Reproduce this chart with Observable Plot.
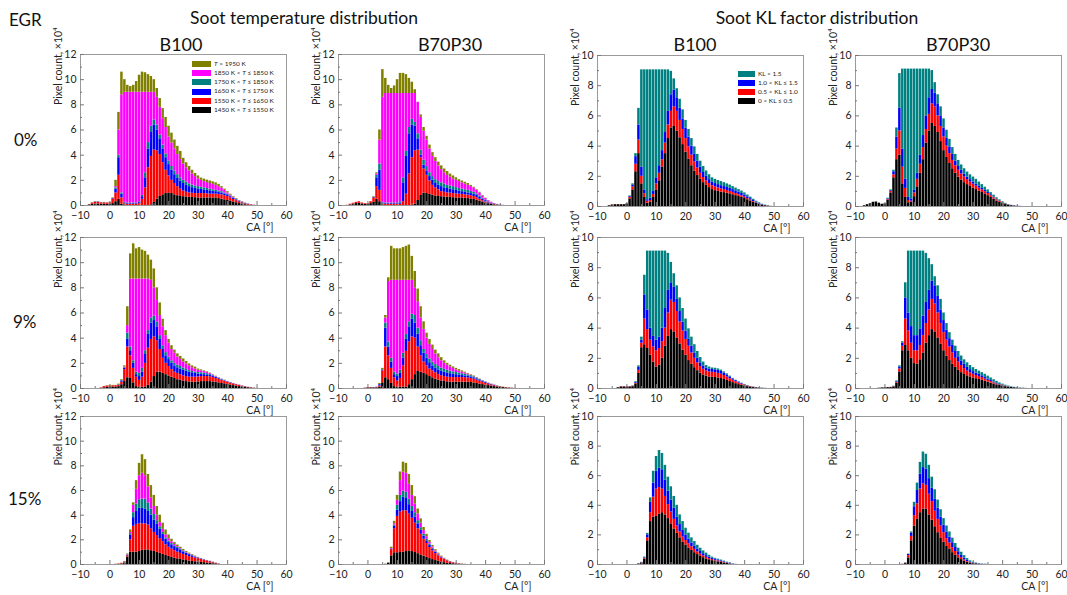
<!DOCTYPE html>
<html><head><meta charset="utf-8">
<script src="https://cdn.jsdelivr.net/npm/d3@7"></script>
<script src="https://cdn.jsdelivr.net/npm/@observablehq/plot@0.6"></script>
<style>
body{margin:0;background:#fff;font-family:Lato,"Open Sans",sans-serif;}
#root{position:relative;width:1067px;height:595px;overflow:hidden;background:#fff;}
.t{position:absolute;white-space:nowrap;color:#111;line-height:1;}
.c{transform:translate(-50%,-50%);}
.l{transform:translateY(-50%);}
.panel{position:absolute;}
.lg{position:absolute;display:flex;align-items:center;font-size:6.5px;color:#222;white-space:nowrap;line-height:1;}
.lg span.sw{display:inline-block;width:18px;height:6px;margin-right:3px;}
</style></head><body><div id="root"></div>
<script>
// crank-angle bins (deg), one bar per bin
const caBins = [-8,-7,-6,-5,-4,-3,-2,-1,0,1,2,3,4,5,6,7,8,9,10,11,12,13,14,15,16,17,18,19,20,21,22,23,24,25,26,27,28,29,30,31,32,33,34,35,36,37,38,39,40,41,42,43,44,45,46,47,48,49,50];

// Each array: upper edge (cumulative, x10^4 pixels) of the layer, bottom layer first.
// ---- Soot temperature, B100, EGR 0%
const tB100_0 = {
  black:[0,0.05,0.1,0.12,0.12,0.1,0.1,0.1, 0.1,0.15,0.3,0.5,0.1,0,0,0,0,0, 0,0,0,0,0.05,0.25,0.5,0.72,0.85,0.95, 1.0,0.95,0.85,0.78,0.72,0.7,0.68,0.66,0.64,0.62, 0.6,0.6,0.6,0.6,0.6,0.6,0.6,0.55,0.5,0.45, 0.4,0.35,0.28,0.22,0.15,0.1,0.06,0.03,0.02,0,0],
  red:[0,0.07,0.2,0.25,0.25,0.2,0.2,0.2, 0.2,0.5,1.0,2.4,0.6,0.15,0.1,0.1,0.1,0.1, 0.15,0.5,1.4,3.0,3.9,4.4,4.35,4.05,3.4,2.8, 2.35,2.0,1.75,1.5,1.3,1.15,1.05,1.0,0.97,0.95, 0.95,0.95,0.95,0.92,0.9,0.9,0.9,0.88,0.84,0.78, 0.72,0.6,0.48,0.38,0.28,0.2,0.13,0.08,0.04,0.02,0],
  blue:[0,0.07,0.2,0.28,0.28,0.22,0.22,0.2, 0.22,0.55,1.3,3.8,0.9,0.2,0.15,0.15,0.15,0.15, 0.25,0.7,2.2,4.5,5.8,6.4,6.0,5.3,4.5,3.8, 3.25,2.8,2.45,2.15,1.92,1.75,1.6,1.5,1.42,1.37, 1.32,1.28,1.24,1.2,1.17,1.13,1.1,1.05,1.0,0.92, 0.85,0.7,0.57,0.44,0.33,0.23,0.15,0.1,0.05,0.02,0],
  teal:[0,0.07,0.2,0.28,0.28,0.22,0.22,0.2, 0.22,0.55,1.4,4.0,1.0,0.25,0.2,0.2,0.2,0.2, 0.3,0.8,2.6,5.0,6.3,6.8,6.4,5.6,4.8,4.1, 3.55,3.1,2.75,2.45,2.2,2.0,1.85,1.72,1.62,1.55, 1.5,1.45,1.4,1.35,1.3,1.25,1.2,1.15,1.1,1.0, 0.9,0.75,0.6,0.47,0.36,0.26,0.17,0.11,0.06,0.02,0],
  magenta:[0,0.07,0.2,0.28,0.28,0.22,0.22,0.2, 0.22,0.55,1.5,6.0,8.8,9.0,9.0,9.0,9.0,9.0, 9.0,9.0,9.0,9.0,9.0,9.0,8.6,7.8,6.9,6.2, 5.45,4.95,4.5,4.05,3.65,3.3,3.0,2.75,2.5,2.3, 2.12,2.0,1.9,1.82,1.75,1.68,1.6,1.5,1.38,1.2, 1.0,0.82,0.65,0.5,0.38,0.28,0.18,0.12,0.07,0.03,0],
  olive:[0,0.08,0.22,0.3,0.3,0.25,0.25,0.22, 0.25,0.6,2.0,7.4,10.6,10.0,9.55,9.45,9.55,9.85, 10.35,10.6,10.55,10.4,10.25,10.0,9.3,8.5,7.7,7.0, 6.3,5.75,5.2,4.7,4.3,3.75,3.4,3.1,2.8,2.55, 2.35,2.18,2.1,2.02,1.95,1.88,1.8,1.68,1.5,1.3, 1.1,0.9,0.7,0.55,0.4,0.3,0.2,0.13,0.08,0.03,0]
};
// ---- Soot temperature, B70P30, EGR 0%
const tB70P30_0 = {
  black:[0,0,0.05,0.1,0.15,0.18,0.12,0.1, 0.1,0.15,0.25,0.5,0.3,0.05,0,0,0,0, 0,0,0,0,0,0,0.1,0.4,0.8,0.98, 0.95,0.88,0.82,0.76,0.72,0.7,0.68,0.66,0.64,0.62, 0.6,0.6,0.6,0.58,0.55,0.52,0.48,0.42,0.35,0.28, 0.2,0.14,0.09,0.05,0.03,0.01,0,0,0,0,0],
  red:[0,0.02,0.1,0.18,0.25,0.3,0.2,0.15, 0.15,0.3,0.6,1.5,1.2,0.15,0.1,0.1,0.1,0.1, 0.1,0.1,0.3,0.9,2.5,3.8,4.35,4.4,3.8,2.9, 2.4,1.95,1.6,1.4,1.25,1.1,1.05,1.0,0.98,0.95, 0.92,0.9,0.88,0.85,0.82,0.78,0.72,0.62,0.5,0.38, 0.28,0.2,0.13,0.08,0.05,0.02,0,0,0,0,0],
  blue:[0,0.02,0.1,0.18,0.25,0.3,0.2,0.15, 0.15,0.3,0.65,2.2,2.8,0.2,0.15,0.15,0.15,0.15, 0.15,0.2,1.8,3.9,5.7,6.4,6.3,5.3,4.0,3.2, 2.75,2.3,2.0,1.75,1.6,1.5,1.4,1.35,1.3,1.25, 1.2,1.15,1.1,1.05,1.0,0.95,0.9,0.8,0.65,0.5, 0.38,0.27,0.18,0.11,0.06,0.03,0.01,0,0,0,0],
  teal:[0,0.02,0.1,0.18,0.25,0.3,0.2,0.15, 0.15,0.3,0.65,2.4,3.3,0.25,0.2,0.2,0.2,0.2, 0.2,0.3,2.2,4.3,6.2,6.85,6.6,5.7,4.4,3.6, 3.1,2.6,2.3,2.05,1.9,1.8,1.7,1.6,1.55,1.5, 1.42,1.35,1.3,1.25,1.2,1.12,1.05,0.92,0.75,0.58, 0.43,0.3,0.2,0.12,0.07,0.03,0.01,0,0,0,0],
  magenta:[0,0.02,0.1,0.18,0.25,0.3,0.2,0.15, 0.15,0.3,0.65,2.5,5.2,8.6,8.9,8.9,8.9,8.9, 8.9,8.9,8.9,8.9,8.9,8.9,8.9,8.2,7.0,5.9, 5.2,4.5,3.9,3.5,3.15,2.85,2.6,2.4,2.25,2.1, 2.0,1.9,1.8,1.7,1.6,1.5,1.4,1.2,1.0,0.75, 0.55,0.38,0.25,0.15,0.08,0.04,0.01,0,0,0,0],
  olive:[0,0.02,0.1,0.18,0.25,0.3,0.2,0.15, 0.15,0.3,0.7,2.6,6.0,10.8,10.1,9.55,9.3,9.5, 10.0,10.5,10.5,10.4,10.1,9.8,9.2,8.2,7.2,6.2, 5.5,4.8,4.2,3.8,3.45,3.15,2.9,2.7,2.5,2.35, 2.2,2.05,1.95,1.85,1.75,1.6,1.45,1.25,1.05,0.8, 0.58,0.4,0.26,0.16,0.09,0.04,0.01,0,0,0,0]
};
// ---- Soot temperature, B100, EGR 9%
const tB100_9 = {
  black:[0,0,0,0,0,0.02,0.05,0.1, 0.12,0.12,0.12,0.15,0.3,0.55,0.85,0.8,0.45,0.15, 0.1,0.1,0.12,0.25,0.5,0.95,1.3,1.3,1.2,1.1, 1.0,0.9,0.8,0.7,0.65,0.6,0.55,0.52,0.5,0.5, 0.52,0.55,0.55,0.55,0.55,0.52,0.5,0.45,0.4,0.37, 0.33,0.28,0.23,0.19,0.15,0.12,0.09,0.06,0.04,0.02,0],
  red:[0,0,0,0,0,0.05,0.15,0.2, 0.2,0.22,0.22,0.25,0.5,1.5,3.3,2.6,1.6,0.9, 0.65,0.9,2.0,3.2,3.9,4.1,3.8,3.1,2.4,2.0, 1.75,1.5,1.3,1.2,1.1,1.0,0.95,0.9,0.9,0.9, 0.92,0.95,0.95,0.95,0.93,0.88,0.8,0.72,0.63,0.56, 0.5,0.43,0.36,0.3,0.24,0.18,0.13,0.09,0.06,0.03,0.01],
  blue:[0,0,0,0,0,0.05,0.15,0.2, 0.2,0.22,0.23,0.28,0.6,1.6,3.9,3.0,2.0,1.1, 0.95,1.3,2.7,4.3,5.2,5.4,4.9,3.9,3.1,2.6, 2.3,2.0,1.8,1.65,1.55,1.45,1.38,1.3,1.25,1.2, 1.15,1.12,1.1,1.08,1.05,0.98,0.88,0.78,0.68,0.6, 0.53,0.45,0.38,0.31,0.25,0.19,0.14,0.1,0.06,0.03,0.01],
  teal:[0,0,0,0,0,0.05,0.15,0.2, 0.2,0.22,0.23,0.3,0.65,1.65,4.4,3.3,2.2,1.3, 1.2,1.6,3.0,4.6,5.6,5.75,5.3,4.2,3.4,2.85, 2.5,2.2,2.0,1.85,1.75,1.62,1.52,1.42,1.35,1.3, 1.27,1.25,1.22,1.18,1.12,1.02,0.92,0.82,0.71,0.62, 0.55,0.47,0.39,0.32,0.26,0.2,0.15,0.1,0.06,0.03,0.01],
  magenta:[0,0,0,0,0,0.05,0.15,0.2, 0.2,0.22,0.23,0.3,0.65,1.7,5.0,8.7,8.7,8.7, 8.7,8.7,8.7,8.7,8.6,8.0,7.0,5.8,4.9,4.2, 3.6,3.1,2.8,2.5,2.3,2.1,1.95,1.8,1.65,1.55, 1.45,1.4,1.35,1.28,1.2,1.08,0.96,0.85,0.73,0.64, 0.56,0.48,0.4,0.33,0.27,0.21,0.15,0.1,0.06,0.03,0.01],
  olive:[0,0,0,0,0,0.05,0.15,0.22, 0.25,0.25,0.25,0.35,0.7,1.8,6.5,10.7,11.5,11.1, 11.2,11.0,10.9,10.6,10.2,9.5,8.0,6.8,5.5,4.6, 3.9,3.4,3.05,2.75,2.55,2.35,2.15,1.95,1.8,1.7, 1.55,1.48,1.4,1.32,1.22,1.1,0.98,0.87,0.75,0.66, 0.56,0.48,0.4,0.33,0.27,0.21,0.15,0.1,0.06,0.03,0.01]
};
// ---- Soot temperature, B70P30, EGR 9%
const tB70P30_9 = {
  black:[0,0,0,0,0,0,0,0.02, 0.05,0.05,0.05,0.05,0.1,0.45,0.85,0.7,0.4,0.15, 0.1,0.1,0.1,0.12,0.3,0.7,1.1,1.35,1.3,1.2, 1.1,0.95,0.85,0.75,0.67,0.6,0.56,0.53,0.51,0.5, 0.5,0.5,0.5,0.5,0.5,0.48,0.44,0.4,0.35,0.31, 0.27,0.23,0.19,0.15,0.12,0.09,0.07,0.05,0.03,0.02,0],
  red:[0,0,0,0,0,0,0,0.03, 0.08,0.08,0.06,0.08,0.2,1.4,3.3,2.6,1.6,0.85, 0.6,0.8,1.8,2.95,3.7,4.1,4.0,3.3,2.6,2.1, 1.8,1.55,1.4,1.25,1.12,1.02,0.95,0.9,0.88,0.87, 0.87,0.87,0.87,0.86,0.84,0.8,0.74,0.66,0.58,0.5, 0.42,0.35,0.28,0.22,0.17,0.13,0.1,0.07,0.05,0.03,0.01],
  blue:[0,0,0,0,0,0,0,0.03, 0.08,0.08,0.06,0.1,0.3,1.45,4.8,3.3,2.1,1.1, 0.95,1.2,2.4,3.9,4.9,5.5,5.2,4.3,3.4,2.8, 2.4,2.05,1.8,1.6,1.48,1.38,1.3,1.24,1.18,1.14, 1.1,1.06,1.03,1.0,0.97,0.92,0.85,0.77,0.68,0.58, 0.48,0.4,0.32,0.25,0.19,0.14,0.1,0.07,0.05,0.03,0.01],
  teal:[0,0,0,0,0,0,0,0.03, 0.08,0.08,0.06,0.1,0.32,1.5,5.2,3.7,2.4,1.3, 1.15,1.45,2.8,4.3,5.3,5.9,5.8,4.8,3.8,3.1, 2.7,2.35,2.1,1.9,1.75,1.62,1.52,1.45,1.38,1.32, 1.27,1.22,1.17,1.13,1.08,1.02,0.93,0.83,0.72,0.61, 0.5,0.41,0.33,0.26,0.2,0.15,0.1,0.07,0.05,0.03,0.01],
  magenta:[0,0,0,0,0,0,0,0.03, 0.08,0.08,0.06,0.1,0.32,1.5,5.6,8.5,8.6,8.6, 8.6,8.6,8.6,8.6,8.6,8.6,8.0,6.9,5.6,4.7, 4.0,3.5,3.1,2.75,2.45,2.2,2.0,1.85,1.72,1.6, 1.48,1.38,1.3,1.22,1.15,1.06,0.96,0.85,0.73,0.62, 0.51,0.42,0.34,0.27,0.2,0.15,0.1,0.07,0.05,0.03,0.01],
  olive:[0,0,0,0,0,0,0,0.03, 0.08,0.08,0.06,0.1,0.4,1.6,5.8,8.8,11.3,11.1, 11.1,11.1,11.2,11.3,11.4,10.5,9.3,7.9,6.5,5.3, 4.4,3.9,3.45,3.05,2.75,2.45,2.2,2.0,1.85,1.72, 1.6,1.5,1.4,1.3,1.2,1.1,1.0,0.88,0.76,0.64, 0.53,0.43,0.35,0.28,0.21,0.16,0.11,0.08,0.05,0.03,0.01]
};
// ---- Soot temperature, B100, EGR 15%
const tB100_15 = {
  black:[0,0,0,0,0,0,0,0, 0,0,0.01,0.02,0.04,0.1,0.6,1.0,1.0,1.0, 1.05,1.15,1.18,1.18,1.12,1.06,0.98,0.9,0.82,0.74, 0.66,0.58,0.52,0.46,0.41,0.37,0.32,0.28,0.25,0.22, 0.2,0.17,0.15,0.12,0.1,0.07,0.05,0.02,0,0],
  red:[0,0,0,0,0,0,0,0, 0,0,0.02,0.04,0.1,0.2,0.7,2.0,3.1,3.25, 3.3,3.3,3.3,3.2,2.9,2.6,2.35,2.1,1.85,1.6, 1.4,1.25,1.12,1.0,0.9,0.82,0.72,0.64,0.58,0.52, 0.47,0.4,0.34,0.28,0.22,0.16,0.1,0.04,0,0],
  blue:[0,0,0,0,0,0,0,0, 0,0,0.02,0.04,0.1,0.22,0.75,2.4,3.8,4.3, 4.55,4.55,4.5,4.3,4.0,3.6,3.25,2.85,2.45,2.05, 1.8,1.6,1.45,1.3,1.15,1.02,0.9,0.8,0.7,0.6, 0.52,0.44,0.37,0.3,0.24,0.17,0.1,0.04,0,0],
  teal:[0,0,0,0,0,0,0,0, 0,0,0.02,0.04,0.1,0.22,0.78,2.5,4.2,4.9, 5.25,5.3,5.3,5.0,4.5,4.05,3.55,3.05,2.6,2.15, 1.9,1.7,1.52,1.38,1.22,1.07,0.94,0.82,0.72,0.62, 0.54,0.46,0.38,0.31,0.25,0.18,0.11,0.04,0,0],
  magenta:[0,0,0,0,0,0,0,0, 0,0,0.02,0.04,0.1,0.22,0.8,2.6,4.8,6.1, 7.2,7.4,7.2,6.3,5.4,4.7,4.0,3.4,2.85,2.4, 2.1,1.85,1.62,1.45,1.28,1.12,0.98,0.86,0.74,0.64, 0.55,0.47,0.39,0.32,0.26,0.19,0.12,0.05,0,0],
  olive:[0,0,0,0,0,0,0,0, 0,0,0.02,0.05,0.1,0.25,0.85,2.8,5.0,6.8, 8.2,8.9,8.5,7.3,6.4,5.6,4.7,4.0,3.35,2.8, 2.4,2.05,1.78,1.58,1.4,1.22,1.06,0.92,0.8,0.68, 0.58,0.49,0.41,0.33,0.27,0.2,0.12,0.05,0,0]
};
// ---- Soot temperature, B70P30, EGR 15%
const tB70P30_15 = {
  black:[0,0,0,0,0,0,0,0, 0,0,0,0,0,0,0.02,0.1,0.7,0.95, 0.95,0.97,1.0,1.05,1.1,1.05,0.97,0.88,0.78,0.68, 0.58,0.48,0.4,0.32,0.26,0.2,0.15,0.11,0.08,0.06, 0.04,0.02,0.01,0],
  red:[0,0,0,0,0,0,0,0, 0,0,0,0,0,0,0.02,0.12,1.2,2.9, 3.9,4.25,4.35,4.35,4.1,3.75,3.35,2.9,2.45,2.05, 1.7,1.38,1.1,0.88,0.7,0.53,0.4,0.29,0.2,0.13, 0.09,0.05,0.03,0.01,0],
  blue:[0,0,0,0,0,0,0,0, 0,0,0,0,0,0,0.02,0.12,1.25,3.1, 4.4,5.1,5.45,5.35,4.85,4.3,3.85,3.3,2.78,2.3, 1.92,1.55,1.25,0.98,0.76,0.58,0.43,0.31,0.22,0.14, 0.1,0.06,0.03,0.01,0],
  teal:[0,0,0,0,0,0,0,0, 0,0,0,0,0,0,0.02,0.12,1.27,3.2, 4.8,5.6,5.95,5.85,5.3,4.7,4.2,3.55,2.98,2.45, 2.05,1.65,1.32,1.03,0.8,0.6,0.45,0.33,0.23,0.15, 0.1,0.06,0.03,0.01,0],
  magenta:[0,0,0,0,0,0,0,0, 0,0,0,0,0,0,0.02,0.12,1.3,3.3, 5.2,6.8,7.5,7.4,6.5,5.6,4.9,4.1,3.35,2.75, 2.25,1.8,1.42,1.1,0.85,0.63,0.47,0.34,0.24,0.16, 0.11,0.06,0.03,0.01,0],
  olive:[0,0,0,0,0,0,0,0, 0,0,0,0,0,0,0.02,0.15,1.4,3.5, 5.6,7.5,8.3,8.2,7.3,6.4,5.5,4.5,3.7,3.0, 2.45,1.95,1.55,1.2,0.92,0.68,0.5,0.36,0.25,0.17, 0.12,0.07,0.04,0.02,0]
};
// ---- Soot KL factor, B100, EGR 0%
const kB100_0 = {
  black:[0,0,0.05,0.1,0.12,0.12,0.12,0.12, 0.15,0.5,1.1,2.3,3.5,1.5,0.6,0.22,0.3,0.6, 1.1,1.7,2.6,3.5,4.5,5.2,5.3,5.0,4.55,4.1, 3.6,3.15,2.7,2.35,2.05,1.8,1.58,1.4,1.25,1.12, 1.05,1.0,0.95,0.92,0.88,0.84,0.78,0.72,0.66,0.6, 0.53,0.45,0.37,0.29,0.21,0.14,0.09,0.05,0.03,0.01,0],
  red:[0,0,0.06,0.11,0.13,0.13,0.13,0.13, 0.17,0.6,1.3,2.8,4.4,2.0,0.85,0.35,0.4,0.8, 1.5,2.2,3.1,4.2,5.4,6.3,6.6,6.3,5.7,5.1, 4.5,3.95,3.4,2.95,2.55,2.2,1.92,1.7,1.52,1.38, 1.3,1.23,1.17,1.12,1.06,1.0,0.93,0.86,0.78,0.7, 0.62,0.52,0.43,0.33,0.24,0.16,0.1,0.06,0.03,0.01,0],
  blue:[0,0,0.06,0.11,0.13,0.13,0.13,0.13, 0.18,0.65,1.4,3.3,5.4,2.6,1.1,0.45,0.55,1.0, 1.9,2.7,3.7,4.9,6.3,7.4,7.7,7.2,6.5,5.8, 5.2,4.6,4.0,3.45,3.0,2.6,2.25,2.0,1.78,1.62, 1.52,1.45,1.38,1.32,1.26,1.2,1.12,1.04,0.95,0.86, 0.76,0.64,0.52,0.4,0.29,0.19,0.12,0.07,0.03,0.01,0],
  teal:[0,0,0.06,0.11,0.13,0.13,0.13,0.13, 0.2,0.7,1.5,3.5,6.5,9.05,9.05,9.05,9.05,9.05, 9.05,9.05,9.05,9.05,9.05,8.95,8.45,7.8,7.1,6.4, 5.7,5.1,4.5,3.95,3.45,3.0,2.65,2.35,2.1,1.9, 1.8,1.72,1.65,1.58,1.5,1.42,1.32,1.22,1.12,1.02, 0.9,0.76,0.62,0.48,0.35,0.24,0.15,0.09,0.04,0.01,0]
};
// ---- Soot KL factor, B70P30, EGR 0%
const kB70P30_0 = {
  black:[0,0.05,0.12,0.18,0.28,0.3,0.22,0.15, 0.15,0.4,0.9,1.9,3.1,3.4,1.5,0.6,0.25,0.3, 0.65,1.3,2.2,3.1,4.2,5.0,5.5,5.3,4.9,4.3, 3.7,3.25,2.85,2.5,2.2,1.95,1.75,1.58,1.45,1.33, 1.22,1.12,1.02,0.93,0.83,0.72,0.6,0.48,0.36,0.27, 0.19,0.13,0.08,0.05,0.03,0.01,0,0,0,0,0],
  red:[0,0.05,0.12,0.18,0.28,0.3,0.22,0.15, 0.17,0.45,1.0,2.1,3.8,5.0,2.6,1.2,0.4,0.35, 0.9,1.8,2.8,3.9,5.1,6.1,6.8,6.6,6.0,5.3, 4.6,4.0,3.5,3.05,2.7,2.4,2.15,1.95,1.78,1.62, 1.48,1.35,1.22,1.1,0.98,0.86,0.72,0.58,0.45,0.34, 0.24,0.16,0.1,0.06,0.03,0.01,0,0,0,0,0],
  blue:[0,0.05,0.12,0.18,0.28,0.3,0.22,0.15, 0.18,0.5,1.05,2.3,4.6,6.5,3.8,1.8,0.6,0.5, 1.1,2.2,3.4,4.7,6.0,7.2,7.75,7.5,6.8,6.0, 5.2,4.5,3.95,3.45,3.0,2.65,2.4,2.15,1.95,1.78, 1.62,1.48,1.34,1.2,1.07,0.93,0.78,0.63,0.49,0.37, 0.26,0.17,0.11,0.07,0.04,0.02,0.01,0,0,0,0],
  teal:[0,0.05,0.12,0.18,0.28,0.3,0.22,0.15, 0.2,0.55,1.1,2.4,5.2,8.8,9.1,9.1,9.1,9.1, 9.1,9.1,9.1,9.1,9.1,9.1,9.0,8.2,7.4,6.6, 5.8,5.05,4.45,3.9,3.45,3.05,2.75,2.5,2.28,2.1, 1.95,1.8,1.62,1.45,1.28,1.1,0.92,0.75,0.58,0.44, 0.31,0.21,0.13,0.08,0.05,0.02,0.01,0,0,0,0]
};
// ---- Soot KL factor, B100, EGR 9%
const kB100_9 = {
  black:[0,0,0,0,0,0.05,0.1,0.1, 0.1,0.1,0.12,0.3,1.0,2.7,2.9,2.65,2.2,1.75, 1.42,1.55,2.0,2.8,3.45,3.9,3.75,3.35,2.95,2.55, 2.2,1.85,1.6,1.38,1.18,1.02,0.9,0.82,0.76,0.74, 0.73,0.7,0.66,0.6,0.54,0.46,0.39,0.32,0.26,0.21, 0.16,0.12,0.09,0.06,0.04,0.03,0.02,0.01,0,0,0],
  red:[0,0,0,0,0,0.05,0.12,0.12, 0.12,0.12,0.15,0.35,1.2,3.0,4.6,3.9,3.2,2.75, 2.5,2.65,3.1,4.0,5.0,5.85,5.7,5.1,4.4,3.8, 3.25,2.8,2.35,2.0,1.7,1.45,1.28,1.16,1.1,1.07, 1.05,1.0,0.95,0.86,0.76,0.65,0.55,0.45,0.36,0.29, 0.22,0.16,0.12,0.08,0.05,0.03,0.02,0.01,0,0,0],
  blue:[0,0,0,0,0,0.05,0.12,0.12, 0.12,0.13,0.16,0.4,1.4,3.2,6.2,5.2,4.0,3.45, 3.2,3.4,4.0,5.3,6.5,7.0,6.7,5.9,5.1,4.4, 3.8,3.25,2.8,2.35,2.0,1.7,1.48,1.35,1.29,1.26, 1.24,1.2,1.13,1.02,0.9,0.77,0.64,0.52,0.42,0.33, 0.25,0.18,0.13,0.09,0.06,0.04,0.02,0.01,0,0,0],
  teal:[0,0,0,0,0,0.05,0.12,0.12, 0.12,0.13,0.17,0.45,1.5,3.4,7.5,9.1,9.1,9.1, 9.1,9.1,9.1,9.1,8.95,8.35,7.6,6.8,6.0,5.3, 4.6,3.95,3.4,2.9,2.45,2.05,1.75,1.52,1.42,1.36, 1.34,1.3,1.22,1.1,0.97,0.82,0.67,0.55,0.44,0.35, 0.27,0.2,0.14,0.1,0.07,0.04,0.02,0.01,0,0,0]
};
// ---- Soot KL factor, B70P30, EGR 9%
const kB70P30_9 = {
  black:[0,0,0,0,0,0,0.02,0.04, 0.05,0.06,0.06,0.1,0.35,1.1,2.5,2.85,2.5,2.0, 1.65,1.62,1.9,2.35,3.0,3.5,3.9,3.75,3.35,2.95, 2.5,2.15,1.85,1.6,1.4,1.2,1.05,0.93,0.84,0.77, 0.7,0.65,0.6,0.55,0.49,0.42,0.36,0.3,0.24,0.2, 0.16,0.12,0.09,0.07,0.05,0.03,0.02,0.01,0,0,0],
  red:[0,0,0,0,0,0,0.02,0.04, 0.05,0.07,0.07,0.12,0.4,1.3,2.8,4.6,3.8,3.0, 2.5,2.5,2.85,3.5,4.3,5.2,5.9,5.6,5.0,4.3, 3.7,3.2,2.75,2.35,2.0,1.75,1.52,1.32,1.16,1.04, 0.94,0.86,0.79,0.72,0.63,0.54,0.46,0.38,0.3,0.24, 0.19,0.14,0.1,0.07,0.05,0.03,0.02,0.01,0,0,0],
  blue:[0,0,0,0,0,0,0.02,0.04, 0.05,0.07,0.07,0.13,0.45,1.4,3.0,6.0,5.0,4.1, 3.5,3.5,3.95,4.8,5.7,6.5,7.1,6.8,6.1,5.2, 4.5,3.85,3.3,2.85,2.45,2.1,1.82,1.6,1.4,1.25, 1.12,1.02,0.93,0.84,0.74,0.63,0.53,0.43,0.34,0.27, 0.21,0.16,0.11,0.08,0.05,0.03,0.02,0.01,0,0,0],
  teal:[0,0,0,0,0,0,0.02,0.04, 0.05,0.07,0.08,0.15,0.5,1.5,3.1,7.0,9.1,9.1, 9.1,9.1,9.1,9.1,8.95,8.6,8.2,7.4,6.8,5.9, 5.0,4.3,3.7,3.2,2.8,2.45,2.15,1.9,1.7,1.52, 1.38,1.26,1.15,1.05,0.94,0.82,0.7,0.58,0.47,0.37, 0.29,0.22,0.16,0.11,0.08,0.05,0.03,0.02,0.01,0,0]
};
// ---- Soot KL factor, B100, EGR 15%
const kB100_15 = {
  black:[0,0,0,0,0,0,0,0, 0,0,0,0,0.03,0.1,0.35,1.6,2.9,3.2, 3.25,3.4,3.5,3.35,3.1,2.75,2.4,2.1,1.8,1.52, 1.32,1.12,0.95,0.8,0.67,0.55,0.46,0.38,0.32,0.26, 0.22,0.18,0.14,0.1,0.07,0.04,0.02,0,0,0],
  red:[0,0,0,0,0,0,0,0, 0,0,0,0,0.04,0.12,0.4,1.8,3.5,4.55, 5.1,5.2,5.1,4.6,4.05,3.55,3.05,2.6,2.2,1.85, 1.62,1.4,1.2,1.02,0.85,0.7,0.58,0.48,0.4,0.33, 0.28,0.24,0.19,0.14,0.09,0.05,0.02,0,0,0],
  blue:[0,0,0,0,0,0,0,0, 0,0,0,0,0.05,0.14,0.45,2.0,4.2,5.5, 6.3,6.5,6.4,5.7,4.95,4.35,3.8,3.2,2.7,2.3, 2.0,1.72,1.46,1.25,1.05,0.88,0.73,0.6,0.5,0.42, 0.36,0.31,0.25,0.18,0.12,0.07,0.03,0.01,0,0],
  teal:[0,0,0,0,0,0,0,0, 0,0,0,0,0.06,0.15,0.5,2.1,4.5,6.3, 7.3,7.7,7.5,6.7,5.9,5.25,4.6,4.0,3.35,2.9, 2.45,2.12,1.8,1.55,1.3,1.1,0.92,0.77,0.62,0.5, 0.42,0.36,0.3,0.23,0.16,0.1,0.04,0.01,0,0]
};
// ---- Soot KL factor, B70P30, EGR 15%
const kB70P30_15 = {
  black:[0,0,0,0,0,0,0,0, 0,0,0,0,0,0,0.01,0.06,0.45,1.6, 2.6,3.05,3.5,3.75,3.75,3.35,3.0,2.55,2.15,1.8, 1.5,1.22,1.05,0.8,0.62,0.45,0.33,0.23,0.15,0.09, 0.06,0.04,0.02,0.01,0],
  red:[0,0,0,0,0,0,0,0, 0,0,0,0,0,0,0.02,0.08,0.6,1.9, 3.3,4.1,5.1,5.45,5.35,4.75,4.25,3.6,3.05,2.6, 2.15,1.75,1.45,1.13,0.88,0.63,0.46,0.31,0.2,0.12, 0.08,0.05,0.03,0.01,0],
  blue:[0,0,0,0,0,0,0,0, 0,0,0,0,0,0,0.02,0.1,0.68,2.1, 3.9,5.0,6.1,6.55,6.45,5.8,5.15,4.4,3.8,3.2, 2.65,2.2,1.85,1.47,1.15,0.86,0.62,0.43,0.28,0.17, 0.11,0.07,0.04,0.02,0.01,0],
  teal:[0,0,0,0,0,0,0,0, 0,0,0,0,0,0,0.02,0.1,0.7,2.2, 4.2,5.5,6.9,7.6,7.45,6.7,5.9,5.05,4.35,3.7, 3.1,2.6,2.2,1.78,1.42,1.1,0.83,0.6,0.4,0.25, 0.16,0.1,0.06,0.03,0.02,0.01,0]
};

// Layer keys (bottom to top), bar colours and legend labels
const tempKeys = ["black","red","blue","teal","magenta","olive"];
const tempColors = ["#2c2c2c","#ef3535","#2a32ee","#23897f","#ee3cee","#87871d"];
const tempLegend = [
  ["olive","#808000","<i>T</i> &gt; 1950 K"],
  ["magenta","#ff00ff","1850 K &lt; <i>T</i> ≤ 1850 K"],
  ["teal","#008080","1750 K &lt; <i>T</i> ≤ 1850 K"],
  ["blue","#0000ff","1650 K &lt; <i>T</i> ≤ 1750 K"],
  ["red","#ff0000","1550 K &lt; <i>T</i> ≤ 1650 K"],
  ["black","#000000","1450 K &lt; <i>T</i> ≤ 1550 K"]
];
const klKeys = ["black","red","blue","teal"];
const klColors = ["#2c2c2c","#ef3535","#2a32ee","#2a9085"];
const klLegend = [
  ["teal","#008080","KL &gt; 1.5"],
  ["blue","#0000ff","1.0 &lt; KL ≤ 1.5"],
  ["red","#ff0000","0.5 &lt; KL ≤ 1.0"],
  ["black","#000000","0 &lt; KL ≤ 0.5"]
];
const xMajor = [-10,0,10,20,30,40,50,60];
const xMinor = [-5,5,15,25,35,45,55];
const tempYMajor = [0,2,4,6,8,10,12];
const tempYMinor = [1,3,5,7,9,11];
const klYMajor = [0,2,4,6,8,10];
const klYMinor = [1,3,5,7,9];

const root = document.getElementById("root");
function addText(html, x, y, size, cls) {
  const d = document.createElement("div");
  d.className = "t " + cls;
  d.style.left = x + "px"; d.style.top = y + "px"; d.style.fontSize = size + "px";
  d.innerHTML = html;
  root.appendChild(d);
}
addText("EGR", 9, 19, 17, "l");
addText("Soot temperature distribution", 304, 18, 17.5, "c");
addText("Soot KL factor distribution", 817, 18, 17.5, "c");
addText("B100", 181, 44, 18, "c");
addText("B70P30", 450, 44, 18, "c");
addText("B100", 695, 44, 18, "c");
addText("B70P30", 958, 44, 18, "c");
addText("0%", 14, 139, 17, "l");
addText("9%", 13, 321, 17, "l");
addText("15%", 8, 498, 17, "l");

const ML = 40, MR = 8, MT = 6, MB = 34, FW = 206;
const panels = [
  {data: tB100_0, kind: "t", left: 80, top: 54, fh: 151},
  {data: tB70P30_0, kind: "t", left: 338, top: 54, fh: 151},
  {data: kB100_0, kind: "k", left: 597, top: 55, fh: 151},
  {data: kB70P30_0, kind: "k", left: 855, top: 55, fh: 151},
  {data: tB100_9, kind: "t", left: 80, top: 237, fh: 151},
  {data: tB70P30_9, kind: "t", left: 338, top: 237, fh: 151},
  {data: kB100_9, kind: "k", left: 597, top: 237, fh: 151},
  {data: kB70P30_9, kind: "k", left: 855, top: 237, fh: 151},
  {data: tB100_15, kind: "t", left: 80, top: 416, fh: 148},
  {data: tB70P30_15, kind: "t", left: 338, top: 416, fh: 148},
  {data: kB100_15, kind: "k", left: 597, top: 416, fh: 148},
  {data: kB70P30_15, kind: "k", left: 855, top: 416, fh: 148}
];

panels.forEach(p => {
  const keys = p.kind === "t" ? tempKeys : klKeys;
  const colors = p.kind === "t" ? tempColors : klColors;
  const rows = [];
  let below = caBins.map(() => 0);
  keys.forEach(k => {
    const arr = p.data[k];
    const top = caBins.map((c, i) => Math.max(below[i], arr[i] ?? 0));
    caBins.forEach((ca, i) => {
      if (top[i] > below[i]) rows.push({ca, y1: below[i], y2: top[i], layer: k});
    });
    below = top;
  });
  const chart = Plot.plot({
    width: ML + FW + MR, height: MT + p.fh + MB,
    marginLeft: ML, marginRight: MR, marginTop: MT, marginBottom: MB,
    style: {fontFamily: "Lato, 'Open Sans', sans-serif", fontSize: "10.5px", color: "#222", background: "transparent", overflow: "visible"},
    x: {domain: [-10, 60]},
    y: {domain: [0, p.kind === "t" ? 12 : 10]},
    color: {domain: keys, range: colors},
    marks: [
      Plot.rect(rows, {x1: d => d.ca - 0.5, x2: d => d.ca + 0.5, y1: "y1", y2: "y2", fill: "layer", insetLeft: 0.45}),
      Plot.frame({stroke: "#9a9a9a", strokeWidth: 1}),
      Plot.axisX(xMajor, {tickSize: -4, tickPadding: 10.5, stroke: "#777", label: null, fontSize: 10.5}),
      Plot.axisX(xMinor, {tickSize: -2, tickFormat: () => "", stroke: "#777", label: null}),
      Plot.axisY(p.kind === "t" ? tempYMajor : klYMajor, {tickSize: -4, tickPadding: 8, stroke: "#777", label: null, fontSize: 10.5}),
      Plot.axisY(p.kind === "t" ? tempYMinor : klYMinor, {tickSize: -2, tickFormat: () => "", stroke: "#777", label: null}),
      Plot.text(["CA [°]"], {frameAnchor: "bottom-right", dx: -13, dy: 25, textAnchor: "end", fontSize: 10.5}),
      Plot.text(["Pixel count, ×10⁴"], {frameAnchor: "left", rotate: -90, dx: -22, dy: -25, fontSize: 10.5})
    ]
  });
  chart.classList.add("panel");
  chart.style.left = (p.left - ML) + "px";
  chart.style.top = (p.top - MT) + "px";
  root.appendChild(chart);
});

function addLegend(items, x, y0, step, swW) {
  items.forEach(([k, col, label], i) => {
    const d = document.createElement("div");
    d.className = "lg";
    d.style.left = x + "px";
    d.style.top = (y0 + i * step - 3) + "px";
    d.innerHTML = `<span class="sw" style="background:${col};width:${swW}px"></span><span>${label}</span>`;
    root.appendChild(d);
  });
}
addLegend(tempLegend, 192, 63.5, 9.3, 19);
addLegend(klLegend, 738, 73.5, 9.1, 17);
</script>
</body></html>
